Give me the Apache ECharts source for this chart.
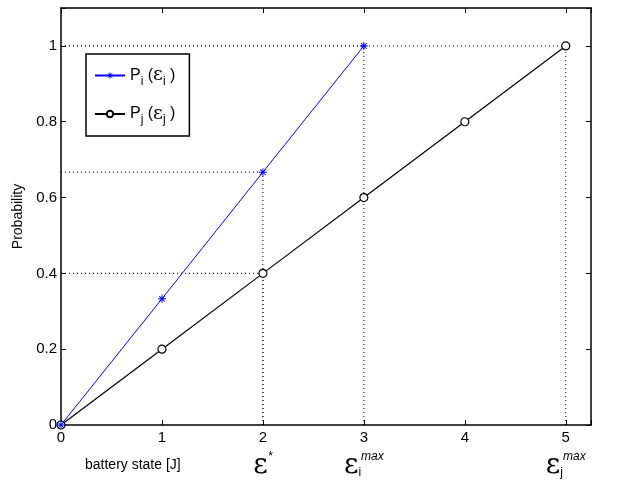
<!DOCTYPE html>
<html>
<head>
<meta charset="utf-8">
<script src="https://cdn.jsdelivr.net/npm/echarts@6/dist/echarts.min.js"></script>
<style>
  html, body { margin: 0; padding: 0; background: #fff; }
  #main { width: 623px; height: 480px; }
</style>
</head>
<body>
<div id="main"></div>
<script>
// battery state values and probabilities
const stateI = [0, 1, 2, 3]
const probI = [0, 0.333, 0.667, 1]
const stateJ = [0, 1, 2, 3, 4, 5]
const probJ = [0, 0.2, 0.4, 0.6, 0.8, 1]
const yTicks = [0, 0.2, 0.4, 0.6, 0.8, 1]
const xTicks = [0, 1, 2, 3, 4, 5]
// extra labels under the x axis: state -> symbol
const epsLabels = { 2: '{e|ε}{sup|*}', 3: '{e|ε}{sub|i}{sup|max}', 5: '{e|ε}{sub|j}{sup|max}' }
// points that get dotted guide lines: [series, index]
const guidePts = [[probI, stateI, 2], [probJ, stateJ, 2], [probI, stateI, 3], [probJ, stateJ, 5]]

const font = 'Liberation Sans, Arial, sans-serif'
const asterisk = 'path://M-0.6,-5L0.6,-5L0.6,5L-0.6,5Z M-5,-0.6L5,-0.6L5,0.6L-5,0.6Z ' +
  'M-3.9,-3.1L-3.1,-3.9L3.9,3.1L3.1,3.9Z M3.1,-3.9L3.9,-3.1L-3.1,3.9L-3.9,3.1Z'

let guideSeries = []
guidePts.forEach(function (g) {
  let x = g[1][g[2]]
  let y = g[0][g[2]]
  guideSeries.push({
    type: 'line', silent: true, symbol: 'none', z: 1,
    lineStyle: { color: '#000', width: 1, type: [1, 3] },
    data: [[0, y], [x, y]]
  })
  guideSeries.push({
    type: 'line', silent: true, symbol: 'none', z: 1,
    lineStyle: { color: '#000', width: 1, type: [1, 3] },
    data: [[x, 0], [x, y]]
  })
})

const xMax = 5.25
const yMax = 1.1

function baseX(extra) {
  return Object.assign({
    type: 'value', min: 0, max: xMax, interval: 1,
    axisLine: { show: true, onZero: false, lineStyle: { color: '#000', width: 1.5 } },
    axisTick: { show: true, inside: true, length: 5, lineStyle: { color: '#000' } },
    splitLine: { show: false },
    axisLabel: {
      color: '#000', fontFamily: font, fontSize: 15, margin: 5,
      formatter: function (v) { return xTicks.indexOf(v) >= 0 ? String(v) : '' }
    }
  }, extra)
}
function baseY(extra) {
  return Object.assign({
    type: 'value', min: 0, max: yMax, interval: 0.2,
    axisLine: { show: true, onZero: false, lineStyle: { color: '#000', width: 1.5 } },
    axisTick: { show: true, inside: true, length: 5, lineStyle: { color: '#000' } },
    splitLine: { show: false },
    axisLabel: {
      color: '#000', fontFamily: font, fontSize: 15, margin: 4,
      formatter: function (v) {
        let r = Math.round(v * 10) / 10
        return yTicks.indexOf(r) >= 0 && Math.abs(v - r) < 1e-6 ? String(r) : ''
      }
    }
  }, extra)
}

var myChart = echarts.init(document.getElementById('main'))
let option = {
  animation: false,
  backgroundColor: '#fff',
  grid: { left: 61, right: 32, top: 8, bottom: 55 },
  xAxis: [
    baseX({ position: 'bottom' }),
    baseX({ position: 'top', axisLabel: { show: false } }),
    baseX({
      position: 'bottom', offset: 22,
      axisLine: { show: false }, axisTick: { show: false },
      axisLabel: {
        color: '#000', margin: 4,
        formatter: function (v) { return epsLabels[v] || '' },
        rich: {
          e: { fontFamily: 'DejaVu Serif, serif', fontSize: 28, color: '#000' },
          sup: { fontFamily: font, fontSize: 12, fontStyle: 'italic', color: '#000', padding: [0, 0, 18, 0] },
          sub: { fontFamily: font, fontSize: 12, color: '#000', padding: [14, 0, 0, 0] }
        }
      }
    })
  ],
  yAxis: [
    baseY({
      position: 'left', name: 'Probability', nameLocation: 'middle', nameGap: 35,
      nameTextStyle: { color: '#000', fontFamily: font, fontSize: 14 }
    }),
    baseY({ position: 'right', axisLabel: { show: false } })
  ],
  legend: {
    left: 86, top: 54, orient: 'vertical',
    backgroundColor: '#fff', borderColor: '#000', borderWidth: 1.5,
    padding: [12, 14, 10, 8], itemGap: 17, itemWidth: 30, itemHeight: 8,
    data: ['Pi', 'Pj'],
    textStyle: {
      fontFamily: font, fontSize: 16, color: '#000',
      rich: {
        t: { fontFamily: font, fontSize: 16, color: '#000' },
        s: { fontFamily: font, fontSize: 12, color: '#000', padding: [12, 0, 0, 0] },
        e: { fontFamily: 'DejaVu Serif, serif', fontSize: 19, color: '#000' }
      }
    },
    formatter: function (name) {
      let k = name === 'Pi' ? 'i' : 'j'
      return '{t|P}{s|' + k + '}{t| (}{e|ε}{s|' + k + '}{t| )}'
    }
  },
  series: guideSeries.concat([
    {
      name: 'Pj', type: 'line', z: 3,
      data: stateJ.map(function (x, i) { return [x, probJ[i]] }),
      symbol: 'circle', symbolSize: 8,
      itemStyle: { color: '#fff', borderColor: '#000', borderWidth: 1.2 },
      lineStyle: { color: '#000', width: 1.2 }
    },
    {
      name: 'Pi', type: 'line', z: 4,
      data: stateI.map(function (x, i) { return [x, probI[i]] }),
      symbol: asterisk, symbolSize: 8,
      itemStyle: { color: '#0000ff' },
      lineStyle: { color: '#0000ff', width: 1 }
    }
  ]),
  graphic: [
    {
      type: 'text', left: 85, top: 458,
      style: { text: 'battery state [J]', font: '14px Liberation Sans, Arial, sans-serif', fill: '#000' }
    }
  ]
}
myChart.setOption(option)
</script>
</body>
</html>
